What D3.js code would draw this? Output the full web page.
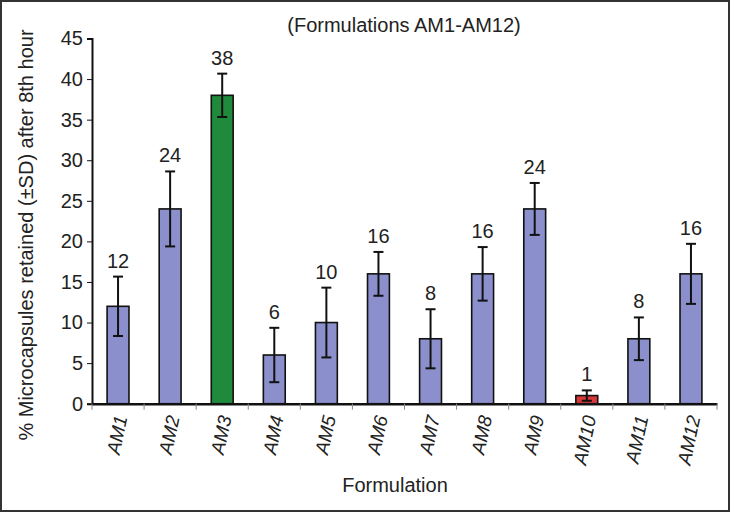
<!DOCTYPE html>
<html>
<head>
<meta charset="utf-8">
<script src="https://d3js.org/d3.v7.min.js"></script>
<style>
  body { margin: 0; background: #fff; }
  text { font-family: "Liberation Sans", Arial, sans-serif; fill: #222; }
</style>
</head>
<body>
<div id="chart"></div>
<script>
// data
var formulations = ["AM1","AM2","AM3","AM4","AM5","AM6","AM7","AM8","AM9","AM10","AM11","AM12"];
var retained = [12, 24, 38, 6, 10, 16, 8, 16, 24, 1, 8, 16];
var sd = [3.66, 4.62, 2.67, 3.35, 4.3, 2.7, 3.64, 3.3, 3.2, 0.64, 2.63, 3.7];
var barColors = ["#8b90cc","#8b90cc","#1f8a3c","#8b90cc","#8b90cc","#8b90cc","#8b90cc","#8b90cc","#8b90cc","#d9383a","#8b90cc","#8b90cc"];
var yTicks = [0, 5, 10, 15, 20, 25, 30, 35, 40, 45];

var width = 730;
var height = 512;
var margin = {top: 38.5, right: 13, bottom: 108.3, left: 92};

var svg = d3.select("#chart").append("svg")
  .attr("width", width)
  .attr("height", height);

// outer frame
svg.append("rect")
  .attr("x", 1).attr("y", 1)
  .attr("width", width - 2).attr("height", height - 2)
  .attr("fill", "#fff")
  .attr("stroke", "#333")
  .attr("stroke-width", 2);

var x = d3.scaleBand()
  .domain(formulations)
  .range([margin.left, width - margin.right])
  .paddingInner(0.58)
  .paddingOuter(0.29);

var y = d3.scaleLinear()
  .domain([0, 45])
  .range([height - margin.bottom, margin.top]);

var data = formulations.map(function(f, i) {
  return {name: f, value: retained[i], sd: sd[i], color: barColors[i]};
});

// bars
svg.append("g")
  .selectAll("rect")
  .data(data)
  .enter()
  .append("rect")
    .attr("x", function(d) { return x(d.name); })
    .attr("y", function(d) { return y(d.value); })
    .attr("width", x.bandwidth())
    .attr("height", function(d) { return y(0) - y(d.value); })
    .attr("fill", function(d) { return d.color; })
    .attr("stroke", "#111")
    .attr("stroke-width", 1.6);

// error bars
var cx = function(d) { return x(d.name) + x.bandwidth() / 2; };
var err = svg.append("g").attr("stroke", "#111").attr("stroke-width", 2);
err.selectAll(".stem")
  .data(data)
  .enter()
  .append("line")
    .attr("x1", cx).attr("x2", cx)
    .attr("y1", function(d) { return y(d.value + d.sd); })
    .attr("y2", function(d) { return y(d.value - d.sd); });
err.selectAll(".capTop")
  .data(data)
  .enter()
  .append("line")
    .attr("x1", function(d) { return cx(d) - 5; })
    .attr("x2", function(d) { return cx(d) + 5; })
    .attr("y1", function(d) { return y(d.value + d.sd); })
    .attr("y2", function(d) { return y(d.value + d.sd); });
err.selectAll(".capBot")
  .data(data)
  .enter()
  .append("line")
    .attr("x1", function(d) { return cx(d) - 5; })
    .attr("x2", function(d) { return cx(d) + 5; })
    .attr("y1", function(d) { return y(d.value - d.sd); })
    .attr("y2", function(d) { return y(d.value - d.sd); });

// value labels
svg.append("g")
  .selectAll("text")
  .data(data)
  .enter()
  .append("text")
    .attr("x", cx)
    .attr("y", function(d) { return y(d.value + d.sd) - 9; })
    .attr("text-anchor", "middle")
    .style("font-size", "20px")
    .text(function(d) { return d.value; });

// y axis
var yAxis = svg.append("g")
  .attr("transform", "translate(" + margin.left + ",0)")
  .call(d3.axisLeft(y).tickValues(yTicks).tickSize(5).tickPadding(4));
yAxis.select(".domain").attr("stroke", "#111").attr("stroke-width", 2);
yAxis.selectAll(".tick line").attr("stroke", "#111");
yAxis.selectAll(".tick text")
  .style("font-size", "20px")
  .style("font-family", "Liberation Sans, Arial, sans-serif")
  .attr("fill", "#222");

// x axis: labels on the band centres, ticks on the category boundaries
var xAxis = svg.append("g")
  .attr("transform", "translate(0," + y(0) + ")")
  .call(d3.axisBottom(x).tickSize(0).tickFormat(""));
xAxis.select(".domain").attr("stroke", "#111").attr("stroke-width", 2.5);

var bounds = formulations.map(function(f) { return x(f) - x.step() * x.paddingInner() / 2; });
bounds.push(width - margin.right);
xAxis.selectAll(".bound")
  .data(bounds)
  .enter()
  .append("line")
    .attr("x1", function(d) { return d; })
    .attr("x2", function(d) { return d; })
    .attr("y1", 0).attr("y2", 6)
    .attr("stroke", "#888")
    .attr("stroke-width", 1);

svg.append("g")
  .selectAll("text")
  .data(formulations)
  .enter()
  .append("text")
    .attr("transform", function(d) {
      return "translate(" + (x(d) + x.bandwidth() / 2 + 3) + "," + (y(0) + 12) + ") rotate(-78)";
    })
    .attr("text-anchor", "end")
    .attr("dy", "0.35em")
    .style("font-size", "19px")
    .style("font-style", "italic")
    .text(function(d) { return d; });

// titles
svg.append("text")
  .attr("x", 404)
  .attr("y", 32)
  .attr("text-anchor", "middle")
  .style("font-size", "20px")
  .text("(Formulations AM1-AM12)");

svg.append("text")
  .attr("x", 395)
  .attr("y", 492)
  .attr("text-anchor", "middle")
  .style("font-size", "20px")
  .text("Formulation");

svg.append("text")
  .attr("transform", "translate(33,235) rotate(-90)")
  .attr("text-anchor", "middle")
  .style("font-size", "20px")
  .text("% Microcapsules retained (\u00b1SD) after 8th hour");
</script>
</body>
</html>
